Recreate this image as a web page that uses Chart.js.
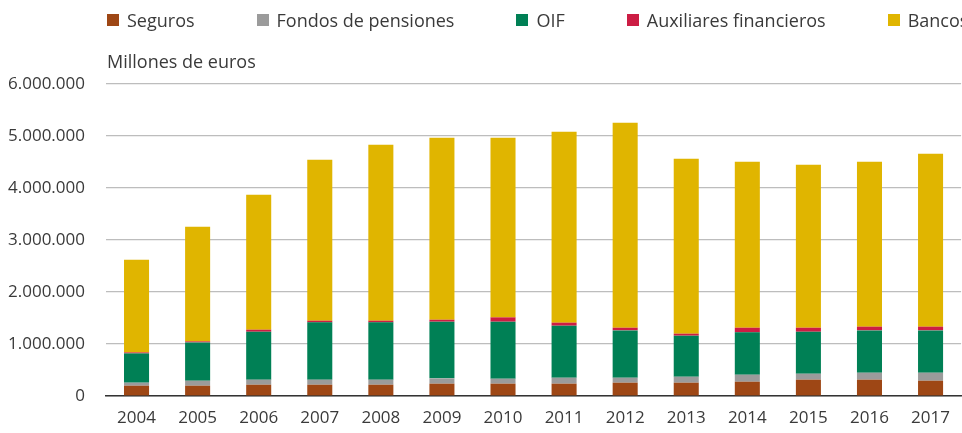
<!DOCTYPE html>
<html>
<head>
<meta charset="utf-8">
<script src="https://cdn.jsdelivr.net/npm/chart.js@4.4.1/dist/chart.umd.min.js"></script>
<style>
  html, body { margin: 0; padding: 0; background: #fff; }
  #wrap { position: relative; width: 962px; height: 433px; overflow: hidden; }
  #legend { position: absolute; top: 8px; left: 107px; display: flex; white-space: nowrap;
            font-family: "Open Sans", sans-serif; font-size: 18px; color: #3a3a3a; }
  #legend .item { display: flex; align-items: center; margin-right: 62px; }
  #legend .box { width: 12px; height: 12px; margin-right: 8px; }
  #unit { position: absolute; top: 49px; left: 107px; font-family: "Open Sans", sans-serif;
          font-size: 18px; color: #3a3a3a; white-space: nowrap; }
</style>
</head>
<body>
<div id="wrap">
  <canvas id="c" width="962" height="433"></canvas>
  <div id="legend"></div>
  <div id="unit"></div>
</div>
<script>
const unitLabel = "Millones de euros";
const years = ["2004","2005","2006","2007","2008","2009","2010","2011","2012","2013","2014","2015","2016","2017"];
const seguros = [198000,198000,217000,217000,217000,237000,237000,237000,256000,256000,275000,314000,314000,294000];
const fondos  = [58000,96000,97000,97000,97000,102000,96000,115000,96000,115000,135000,115000,134000,154000];
const oif     = [563000,737000,922000,1102000,1102000,1090000,1096000,1000000,910000,789000,814000,807000,814000,814000];
const auxiliares = [19000,19000,39000,32000,32000,38000,83000,58000,51000,38000,89000,77000,71000,71000];
const bancos  = [1783000,2206000,2596000,3096000,3385000,3500000,3455000,3673000,3943000,3365000,3193000,3135000,3173000,3327000];
const yTicks  = [0,1000000,2000000,3000000,4000000,5000000,6000000];

const series = [
  { label: "Seguros", data: seguros, color: "#9E4715" },
  { label: "Fondos de pensiones", data: fondos, color: "#9B9B9B" },
  { label: "OIF", data: oif, color: "#008055" },
  { label: "Auxiliares financieros", data: auxiliares, color: "#CC1D44" },
  { label: "Bancos", data: bancos, color: "#E0B500" }
];

const legend = document.getElementById("legend");
series.forEach(s => {
  const it = document.createElement("div"); it.className = "item";
  const b = document.createElement("span"); b.className = "box"; b.style.background = s.color;
  const t = document.createElement("span"); t.textContent = s.label;
  it.appendChild(b); it.appendChild(t); legend.appendChild(it);
});
document.getElementById("unit").textContent = unitLabel;

const fmt = v => v.toString().replace(/\B(?=(\d{3})+(?!\d))/g, ".");

new Chart(document.getElementById("c"), {
  type: "bar",
  data: {
    labels: years,
    datasets: series.map(s => ({
      label: s.label, data: s.data, backgroundColor: s.color,
      barPercentage: 0.41, categoryPercentage: 1, borderWidth: 0
    }))
  },
  options: {
    responsive: false, animation: false,
    layout: { padding: { top: 84, right: 0, left: 0, bottom: 0 } },
    plugins: { legend: { display: false }, tooltip: { enabled: false } },
    scales: {
      x: {
        stacked: true,
        grid: { display: false, drawTicks: false },
        border: { display: true, color: "#333333", width: 1.5 },
        ticks: { color: "#3a3a3a", font: { family: "Open Sans", size: 17 }, padding: 12 },
        afterFit: s => { s.height = 37; }
      },
      y: {
        stacked: true, min: 0, max: 6000000,
        afterBuildTicks: s => { s.ticks = yTicks.map(v => ({ value: v })); },
        grid: { color: "#BDBDBD", lineWidth: 1.2, drawTicks: false },
        border: { display: false },
        ticks: { color: "#3a3a3a", font: { family: "Open Sans", size: 17 }, padding: 21,
                 callback: v => fmt(v) },
        afterFit: s => { s.width = 106; }
      }
    }
  }
});
</script>
</body>
</html>
